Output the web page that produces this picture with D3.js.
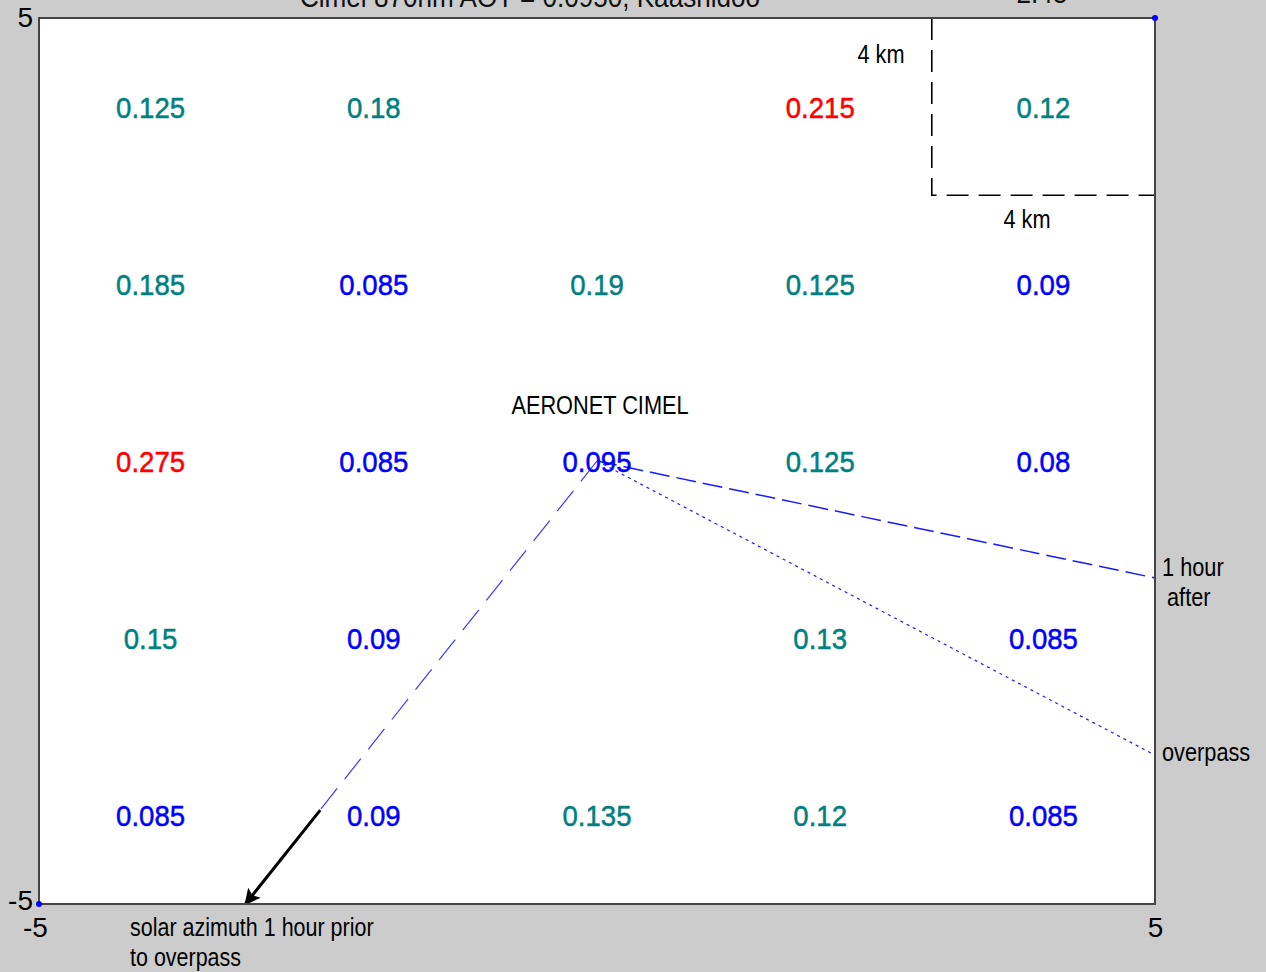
<!DOCTYPE html>
<html>
<head>
<meta charset="utf-8">
<script src="https://cdn.jsdelivr.net/npm/d3@7/dist/d3.min.js"></script>
<style>
  html, body { margin: 0; padding: 0; background: #cccccc; overflow: hidden; }
  svg { display: block; }
</style>
</head>
<body>
<svg id="chart" width="1266" height="972"></svg>
<script>
// Grid of 2 km boxes around the AERONET site; AOT retrieved in each box
const cellX = [-4, -2, 0, 2, 4];
const cellY = [4, 2, 0, -2, -4];
const aotRows = [
  [0.125, 0.18, null, 0.215, 0.12],
  [0.185, 0.085, 0.19, 0.125, 0.09],
  [0.275, 0.085, 0.095, 0.125, 0.08],
  [0.15, 0.09, null, 0.13, 0.085],
  [0.085, 0.09, 0.135, 0.12, 0.085]
];
const axisTicks = [-5, 5];
const titleText = "Cimel 870nm AOT = 0.0950, Kaashidoo";
const timeText = "2:45";

// Viewing / solar azimuth lines from the Cimel site (km)
const site = [0, 0];
const afterEnd = [5, -1.32];
const overpassEnd = [5, -3.32];
const priorEnd = [-3.15, -5];
const arrowStart = [-2.48, -3.94];
const boxCorner = [3, 3];

const svg = d3.select("#chart");
const FONT = "'Liberation Sans', Arial, sans-serif";
const SX = 0.87;

const x = d3.scaleLinear().domain([-5, 5]).range([39, 1155]);
const y = d3.scaleLinear().domain([-5, 5]).range([904, 18]);

function label(g, px, py, txt, opts) {
  const o = Object.assign({size: 22, fill: "#000", anchor: "start", sx: SX}, opts || {});
  return g.append("text")
    .attr("transform", `translate(${px},${py}) scale(${o.sx},1)`)
    .attr("font-family", FONT)
    .attr("font-size", o.size)
    .attr("fill", o.fill)
    .attr("text-anchor", o.anchor)
    .text(txt);
}

// plot area
svg.append("rect")
  .attr("x", x(-5)).attr("y", y(5))
  .attr("width", x(5) - x(-5)).attr("height", y(-5) - y(5))
  .attr("fill", "#ffffff");

// title (runs off the top of the window)
label(svg, 530, 7, titleText, {size: 30, anchor: "middle", fill: "#111"});
label(svg, 1042, 3, timeText, {size: 30, anchor: "middle", fill: "#111"});

// dashed 2x2 km corner box
const dashBox = d3.line().x(d => x(d[0])).y(d => y(d[1]));
svg.append("path")
  .attr("d", dashBox([[boxCorner[0], 5], boxCorner, [5, boxCorner[1]]]))
  .attr("fill", "none").attr("stroke", "#000").attr("stroke-width", 1.6)
  .attr("stroke-dasharray", "22,10");
label(svg, 881, 63, "4 km", {size: 25, anchor: "middle"});
label(svg, 1027, 228, "4 km", {size: 25, anchor: "middle"});

// azimuth lines
const seg = d3.line().x(d => x(d[0])).y(d => y(d[1]));
svg.append("path").attr("d", seg([site, afterEnd]))
  .attr("fill", "none").attr("stroke", "#1a1aff").attr("stroke-width", 1.5)
  .attr("stroke-dasharray", "20,7");
svg.append("path").attr("d", seg([site, overpassEnd]))
  .attr("fill", "none").attr("stroke", "#1a1aff").attr("stroke-width", 1.2)
  .attr("stroke-dasharray", "3,4");
svg.append("path").attr("d", seg([site, priorEnd]))
  .attr("fill", "none").attr("stroke", "#3a3aff").attr("stroke-width", 1.2)
  .attr("stroke-dasharray", "26,12");

// black arrow toward the solar azimuth one hour before overpass
const defs = svg.append("defs");
defs.append("marker")
  .attr("id", "head")
  .attr("viewBox", "0 0 10 10")
  .attr("refX", 9).attr("refY", 5)
  .attr("markerUnits", "userSpaceOnUse")
  .attr("markerWidth", 26).attr("markerHeight", 16)
  .attr("orient", "auto")
  .append("path").attr("d", "M0,0 L10,5 L0,10 L2,5 Z").attr("fill", "#000");
svg.append("path").attr("d", seg([arrowStart, priorEnd]))
  .attr("fill", "none").attr("stroke", "#000").attr("stroke-width", 3)
  .attr("marker-end", "url(#head)");

// AOT values per box
const colorFor = v => v >= 0.2 ? "#ff0000" : (v >= 0.1 ? "#008080" : "#0000ff");
const cells = [];
aotRows.forEach((row, i) => row.forEach((v, j) => {
  if (v !== null) cells.push({cx: cellX[j], cy: cellY[i], v});
}));
const cellG = svg.append("g");
cells.forEach(c => {
  label(cellG, x(c.cx), y(c.cy) + 11, String(c.v), {size: 30, anchor: "middle", fill: colorFor(c.v), sx: 0.92})
    .attr("stroke", colorFor(c.v)).attr("stroke-width", 0.5);
});

label(svg, x(0) + 3, y(0) - 47, "AERONET CIMEL", {size: 25, anchor: "middle"});

// line end notes
label(svg, 1162, 576, "1 hour", {size: 25});
label(svg, 1167, 606, "after", {size: 25});
label(svg, 1162, 761, "overpass", {size: 25});
label(svg, 130, 936, "solar azimuth 1 hour prior", {size: 25, sx: 0.86});
label(svg, 130, 966, "to overpass", {size: 25, sx: 0.86});

// frame
svg.append("rect")
  .attr("x", x(-5)).attr("y", y(5))
  .attr("width", x(5) - x(-5)).attr("height", y(-5) - y(5))
  .attr("fill", "none").attr("stroke", "#444").attr("stroke-width", 2);

// axes: only the end values are labelled
const yAxis = d3.axisLeft(y).tickValues(axisTicks).tickSize(0).tickPadding(6).tickFormat(d => String(d));
const xAxis = d3.axisBottom(x).tickValues(axisTicks).tickSize(0).tickPadding(13).tickFormat(d => String(d));
const ya = svg.append("g").attr("transform", `translate(${x(-5)},0)`).call(yAxis);
const xa = svg.append("g").attr("transform", `translate(0,${y(-5)})`).call(xAxis);
[ya, xa].forEach(a => {
  a.select(".domain").remove();
  a.selectAll("text").attr("font-family", FONT).attr("font-size", 28).attr("fill", "#000");
});
xa.selectAll(".tick").filter(d => d === -5).select("text").attr("dx", -4);
ya.selectAll(".tick").filter(d => d === -5).select("text").attr("dy", "0.2em");

// corner markers
svg.selectAll("circle.corner").data([[-5, -5], [5, 5]]).enter().append("circle")
  .attr("class", "corner")
  .attr("cx", d => x(d[0])).attr("cy", d => y(d[1])).attr("r", 3)
  .attr("fill", "#0000ff");
</script>
</body>
</html>
